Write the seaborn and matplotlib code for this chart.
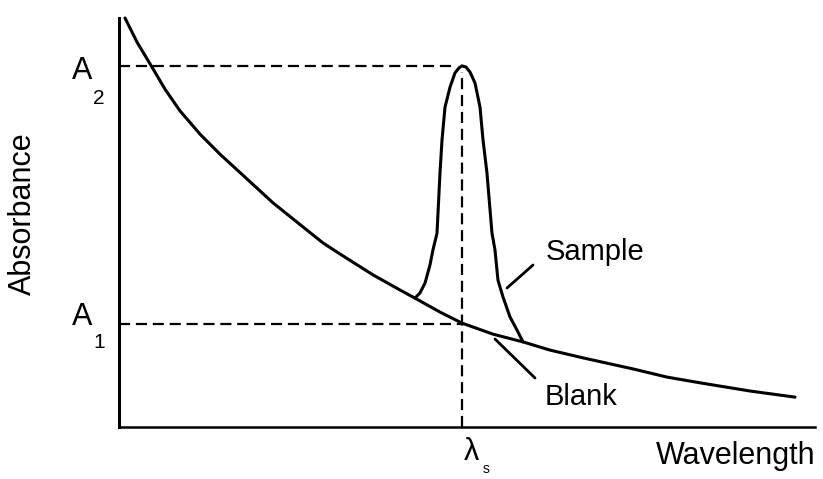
import matplotlib
matplotlib.use("Agg")
import matplotlib.pyplot as plt
import seaborn as sns
import pandas as pd

# ---- data (arbitrary units 0..100) ----
blank_wavelength = [0.86, 2.59, 4.74, 6.61, 8.76, 11.64, 14.51, 18.10, 22.13, 25.57,
                    29.31, 31.75, 36.49, 40.37, 42.53, 46.12, 49.28, 53.74, 58.05,
                    61.93, 66.67, 73.85, 78.74, 83.48, 90.66, 97.13]
blank_absorbance = [100.0, 94.1, 88.0, 82.6, 77.3, 71.6, 66.7, 61.1, 54.8, 50.1,
                    45.0, 42.3, 37.2, 33.5, 31.5, 28.1, 25.4, 22.7, 20.8,
                    18.8, 16.9, 14.2, 12.2, 10.8, 8.8, 7.3]

sample_wavelength = [42.53, 43.25, 43.97, 44.68, 45.11, 45.69, 46.12, 46.41, 46.84,
                     47.56, 48.28, 48.85, 49.28, 49.86, 50.43, 51.15, 51.87, 52.30,
                     52.87, 53.59, 54.02, 54.45, 55.17, 56.18, 57.18, 58.05]
sample_absorbance = [31.5, 32.8, 35.2, 39.6, 43.3, 47.4, 62.1, 70.2, 78.2,
                     83.1, 86.6, 87.8, 88.3, 88.0, 86.8, 84.1, 78.2, 70.2,
                     62.1, 47.4, 43.3, 35.9, 31.8, 26.9, 23.7, 20.8]

lambda_s = 49.3
A1 = 25.2
A2 = 88.2

W, H = 823, 479

sns.set_theme(style="white")
plt.rcParams["font.family"] = ["Liberation Sans", "DejaVu Sans"]

fig = plt.figure(figsize=(W / 100, H / 100), dpi=100)
ax = fig.add_axes([119 / W, (H - 427) / H, (815 - 119) / W, (427 - 18) / H])

blank_df = pd.DataFrame({"Wavelength": blank_wavelength, "Absorbance": blank_absorbance})
sample_df = pd.DataFrame({"Wavelength": sample_wavelength, "Absorbance": sample_absorbance})

sns.lineplot(data=blank_df, x="Wavelength", y="Absorbance", ax=ax, color="black",
             lw=2.2, sort=False, solid_joinstyle="round", solid_capstyle="round",
             clip_on=False)
sns.lineplot(data=sample_df, x="Wavelength", y="Absorbance", ax=ax, color="black",
             lw=2.2, sort=False, solid_joinstyle="round", solid_capstyle="round")

# dashed guides
dash = (5, 2.6)
ax.plot([0, lambda_s - 1.5], [A2, A2], color="black", lw=1.6, dashes=dash)
ax.plot([0, lambda_s], [A1, A1], color="black", lw=1.6, dashes=dash)
ax.plot([lambda_s, lambda_s], [0, A2 - 1.5], color="black", lw=1.6, dashes=dash)

ax.set_xlim(0, 100)
ax.set_ylim(0, 100)
ax.set_xticks([])
ax.set_yticks([])
ax.set_xlabel("")
ax.set_ylabel("")
for side in ["top", "right"]:
    ax.spines[side].set_visible(False)
ax.spines["left"].set_color("black")
ax.spines["left"].set_linewidth(2.2)
ax.spines["bottom"].set_color("black")
ax.spines["bottom"].set_linewidth(1.8)


def ftext(px, py, s, **kw):
    fig.text(px / W, 1 - py / H, s, ha="center", va="center", color="black", **kw)


ftext(23, 214, "Absorbance", fontsize=22, rotation=90)
ftext(736, 456, "Wavelength", fontsize=22)
ftext(82, 71, "A", fontsize=22)
ftext(99, 99, "2", fontsize=15)
ftext(82, 317, "A", fontsize=22)
ftext(99, 342, "1", fontsize=15)
ftext(471, 452, "λ", fontsize=22)
ftext(486, 469, "s", fontsize=10)
ftext(595, 252, "Sample", fontsize=21)
ftext(581, 397, "Blank", fontsize=21)

# pointer lines
for (x0, y0), (x1, y1) in [((507, 288), (533, 265)), ((495, 339), (535, 378))]:
    ax.annotate("", xy=(x1, H - y1), xycoords="figure pixels",
                xytext=(x0, H - y0), textcoords="figure pixels",
                arrowprops=dict(arrowstyle="-", lw=2, color="black",
                                shrinkA=0, shrinkB=0))

fig.savefig("out.png", dpi=100)
